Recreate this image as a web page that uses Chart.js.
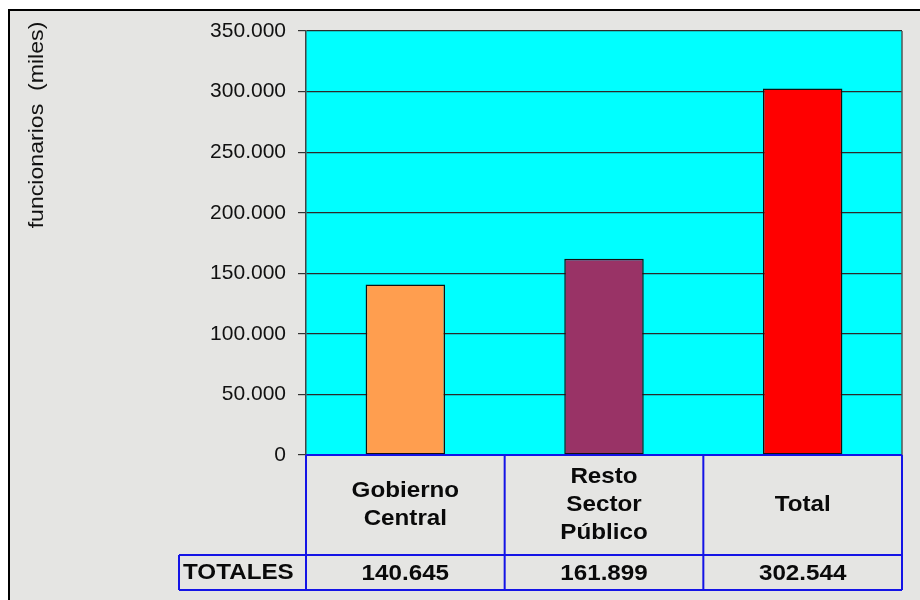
<!DOCTYPE html>
<html>
<head>
<meta charset="utf-8">
<script src="https://cdn.jsdelivr.net/npm/chart.js@4.4.1/dist/chart.umd.min.js"></script>
<style>
html,body{margin:0;padding:0;background:#fff;}
canvas{display:block;}
</style>
</head>
<body>
<canvas id="c" width="920" height="600"></canvas>
<script>
// ---- data ----
const categories = [['Gobierno', 'Central'], ['Resto', 'Sector', 'Público'], ['Total']];
const values = [140645, 161899, 302544];
const barColors = ['#FF9E4F', '#993366', '#FF0000'];
const rowLabel = 'TOTALES';
const yTitle = 'funcionarios  (miles)';
const yMin = 0, yMax = 350000, yStep = 50000;

function fmt(n) {
  return String(Math.round(n)).replace(/\B(?=(\d{3})+(?!\d))/g, '.');
}

const FONT = '"Liberation Sans", Arial, sans-serif';

function stretchText(ctx, t, x, y, sx) {
  ctx.save();
  ctx.translate(x, y);
  ctx.scale(sx, 1);
  ctx.fillText(t, 0, 0);
  ctx.restore();
}

const bgPlugin = {
  id: 'bg',
  beforeDraw(chart) {
    const ctx = chart.ctx;
    const a = chart.chartArea;
    ctx.save();
    ctx.fillStyle = '#ffffff';
    ctx.fillRect(0, 0, chart.width, chart.height);
    ctx.fillStyle = '#e5e5e3';
    ctx.fillRect(9, 10, chart.width, chart.height);
    ctx.strokeStyle = '#000';
    ctx.lineWidth = 2;
    ctx.strokeRect(9, 10, chart.width + 10, chart.height + 10);
    ctx.fillStyle = '#00FFFF';
    ctx.fillRect(a.left, a.top, a.right - a.left, a.bottom - a.top);
    ctx.restore();
  },
  afterDraw(chart) {
    const ctx = chart.ctx;
    const a = chart.chartArea;
    const xs = chart.scales.x;
    ctx.save();
    // right border of plot area
    ctx.strokeStyle = '#555';
    ctx.lineWidth = 1.5;
    ctx.beginPath();
    ctx.moveTo(a.right, a.top);
    ctx.lineTo(a.right, a.bottom);
    ctx.stroke();

    // y title
    ctx.fillStyle = '#111';
    ctx.font = '21px ' + FONT;
    ctx.textAlign = 'center';
    ctx.textBaseline = 'middle';
    ctx.translate(37, 125);
    ctx.rotate(-Math.PI / 2);
    stretchText(ctx, yTitle, 0, 0, 1.1);
    ctx.restore();

    // data table
    ctx.save();
    const n = categories.length;
    const half = (xs.getPixelForValue(1) - xs.getPixelForValue(0)) / 2;
    const bounds = [];
    for (let i = 0; i < n; i++) bounds.push(xs.getPixelForValue(i) - half);
    bounds.push(xs.getPixelForValue(n - 1) + half);
    const top = a.bottom, mid = a.bottom + 100, bot = a.bottom + 135;
    const labelLeft = 179;
    ctx.strokeStyle = '#1414E6';
    ctx.lineWidth = 2;
    ctx.beginPath();
    ctx.moveTo(bounds[0], top); ctx.lineTo(bounds[n], top);
    ctx.moveTo(labelLeft, mid); ctx.lineTo(bounds[n], mid);
    ctx.moveTo(labelLeft, bot); ctx.lineTo(bounds[n], bot);
    ctx.moveTo(labelLeft, mid); ctx.lineTo(labelLeft, bot);
    for (let i = 0; i <= n; i++) {
      ctx.moveTo(bounds[i], top); ctx.lineTo(bounds[i], bot);
    }
    ctx.stroke();

    ctx.fillStyle = '#0a0a0a';
    ctx.font = 'bold 22px ' + FONT;
    ctx.textBaseline = 'middle';
    ctx.textAlign = 'center';
    const lh = 28;
    const sx = 1.1;
    for (let i = 0; i < n; i++) {
      const cx = xs.getPixelForValue(i);
      const lines = categories[i];
      const cy = (top + mid) / 2;
      lines.forEach((t, k) => {
        stretchText(ctx, t, cx, cy + (k - (lines.length - 1) / 2) * lh, sx);
      });
      stretchText(ctx, fmt(values[i]), cx, (mid + bot) / 2 + 1, sx);
    }
    ctx.textAlign = 'left';
    stretchText(ctx, rowLabel, labelLeft + 4, (mid + bot) / 2, sx);
    ctx.restore();
  }
};

new Chart(document.getElementById('c'), {
  type: 'bar',
  data: {
    labels: categories.map(c => c.join(' ')),
    datasets: [{
      data: values,
      backgroundColor: barColors,
      borderColor: '#111',
      borderWidth: 1.5,
      borderSkipped: false,
      categoryPercentage: 1,
      barPercentage: 0.4
    }]
  },
  options: {
    responsive: false,
    animation: false,
    devicePixelRatio: 1,
    layout: { padding: { left: 0, top: 31, right: 18, bottom: 145 } },
    plugins: { legend: { display: false }, tooltip: { enabled: false } },
    scales: {
      x: { display: false },
      y: {
        min: yMin, max: yMax,
        afterFit(s) { s.width = 306; },
        ticks: {
          stepSize: yStep,
          padding: 12,
          color: '#111',
          font: { family: FONT, size: 21 },
          callback: v => fmt(v)
        },
        grid: {
          color: '#2a2a2a',
          lineWidth: 1.2,
          tickLength: 8,
          tickColor: '#333'
        },
        border: { display: true, color: '#444', width: 1.5 }
      }
    }
  },
  plugins: [bgPlugin]
});
</script>
</body>
</html>
